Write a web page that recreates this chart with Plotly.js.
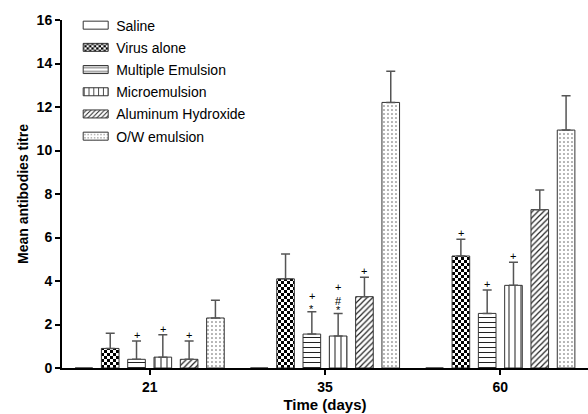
<!DOCTYPE html>
<html>
<head>
<meta charset="utf-8">
<script src="https://cdn.plot.ly/plotly-3.0.1.min.js"></script>
<style>html,body{margin:0;padding:0;background:#fff;}#chart{width:588px;height:414px;}</style>
</head>
<body>
<div id="chart"></div>
<script>
// ---- data ----
const days = ["21", "35", "60"];
const seriesNames = ["Saline", "Virus alone", "Multiple Emulsion", "Microemulsion", "Aluminum Hydroxide", "O/W emulsion"];
const saline      = [0, 0, 0];
const virusAlone  = [0.9, 4.1, 5.15];
const multipleEm  = [0.4, 1.56, 2.51];
const microEm     = [0.5, 1.47, 3.8];
const aluminum    = [0.4, 3.28, 7.28];
const owEmulsion  = [2.3, 12.21, 10.94];

const salineErr   = [0, 0, 0];
const virusErr    = [0.7, 1.14, 0.77];
const multipleErr = [0.84, 1.03, 1.08];
const microErr    = [1.03, 1.04, 1.06];
const aluminumErr = [0.84, 0.89, 0.9];
const owErr       = [0.81, 1.43, 1.58];

// significance marks per day, per series (listed bottom to top)
const sig21 = [[], [], ["+"], ["+"], ["+"], []];
const sig35 = [[], [], ["*", "+"], ["*", "#", "+"], ["+"], []];
const sig60 = [[], ["+"], ["+"], ["+"], [], []];

// ---- styling ----
const values = [saline, virusAlone, multipleEm, microEm, aluminum, owEmulsion];
const errs = [salineErr, virusErr, multipleErr, microErr, aluminumErr, owErr];
const uids = ["saline", "virus", "multiple", "micro", "alum", "ow"];
const patterns = [
  {shape: "", bgcolor: "#fff"},
  {shape: "x", size: 6, solidity: 0.55, fgcolor: "#000", bgcolor: "#fff"},
  {shape: "-", size: 5, solidity: 0.2, fgcolor: "#222", bgcolor: "#fff"},
  {shape: "|", size: 6, solidity: 0.17, fgcolor: "#222", bgcolor: "#fff"},
  {shape: "/", size: 4, solidity: 0.3, fgcolor: "#222", bgcolor: "#fff"},
  {shape: ".", size: 4, solidity: 0.12, fgcolor: "#555", bgcolor: "#fff"}
];
const FONT = "Arial, 'Liberation Sans', sans-serif";

const traces = seriesNames.map((name, i) => ({
  type: "bar",
  name: name,
  uid: uids[i],
  legendgroup: uids[i],
  x: days,
  y: values[i],
  marker: {color: "#fff", line: {color: "#333", width: 1}, pattern: patterns[i]},
  error_y: i === 0 ? {visible: false} : {
    type: "data", symmetric: false, array: errs[i], arrayminus: errs[i].map(() => 0),
    color: "#555", thickness: 1.5, width: 4.5
  },
  hoverinfo: "skip"
}));

const nSeries = seriesNames.length;
const bargap = 0.1;
const slot = (1 - bargap) / nSeries;
const glyphShift = {"+": 6, "*": 3, "#": 2};
const annotations = [];
[sig21, sig35, sig60].forEach((sig, d) => {
  sig.forEach((marks, s) => {
    marks.forEach((m, k) => {
      annotations.push({
        xref: "x", yref: "y",
        x: d + (s - (nSeries - 1) / 2) * slot,
        y: values[s][d] + errs[s][d],
        text: m, showarrow: false,
        yanchor: "middle", yshift: glyphShift[m] + 10 * k,
        font: {family: FONT, size: 11, color: "#000"}
      });
    });
  });
});

const layout = {
  width: 588, height: 414,
  margin: {l: 62, r: 0, t: 20, b: 46},
  paper_bgcolor: "#fff", plot_bgcolor: "#fff",
  barmode: "group", bargap: bargap, bargroupgap: 0.33,
  font: {family: FONT, color: "#000"},
  showlegend: true,
  legend: {
    x: 0.027, y: 1.03, xanchor: "left", yanchor: "top",
    bgcolor: "rgba(0,0,0,0)", borderwidth: 0,
    font: {family: FONT, size: 14, color: "#000"},
    tracegroupgap: 1
  },
  xaxis: {
    type: "category", range: [-0.5, 2.5],
    showline: true, linecolor: "#000", linewidth: 2,
    ticks: "outside", ticklen: 5, tickwidth: 2, tickcolor: "#000",
    tickfont: {family: FONT, size: 14, weight: "bold"},
    showgrid: false, zeroline: false,
    title: {text: "<b>Time (days)</b>", font: {family: FONT, size: 15}, standoff: 6}
  },
  yaxis: {
    range: [0, 16], dtick: 2,
    showline: true, linecolor: "#000", linewidth: 2,
    ticks: "outside", ticklen: 5, tickwidth: 2, tickcolor: "#000",
    tickfont: {family: FONT, size: 14, weight: "bold"},
    showgrid: false, zeroline: false,
    title: {text: "<b>Mean antibodies titre</b>", font: {family: FONT, size: 14}, standoff: 5}
  },
  annotations: annotations
};

const SVGNS = "http://www.w3.org/2000/svg";
function restyleDom(gd) {
  // checkerboard fill for the "Virus alone" pattern
  gd.querySelectorAll('pattern[id*="virus"]').forEach(p => {
    while (p.firstChild) p.removeChild(p.firstChild);
    p.setAttribute("width", 6);
    p.setAttribute("height", 6);
    [[0, 0, 6, 6, "#fff"], [0, 0, 3, 3, "#000"], [3, 3, 3, 3, "#000"]].forEach(r => {
      const e = document.createElementNS(SVGNS, "rect");
      e.setAttribute("x", r[0]); e.setAttribute("y", r[1]);
      e.setAttribute("width", r[2]); e.setAttribute("height", r[3]);
      e.setAttribute("fill", r[4]);
      p.appendChild(e);
    });
  });
  // wide, short legend swatches
  gd.querySelectorAll(".legend .legendpoints path").forEach(p => {
    p.setAttribute("d", "M-13,4H12V-4H-13Z");
  });
}

Plotly.newPlot("chart", traces, layout, {displayModeBar: false, staticPlot: true}).then(restyleDom);
</script>
</body>
</html>
